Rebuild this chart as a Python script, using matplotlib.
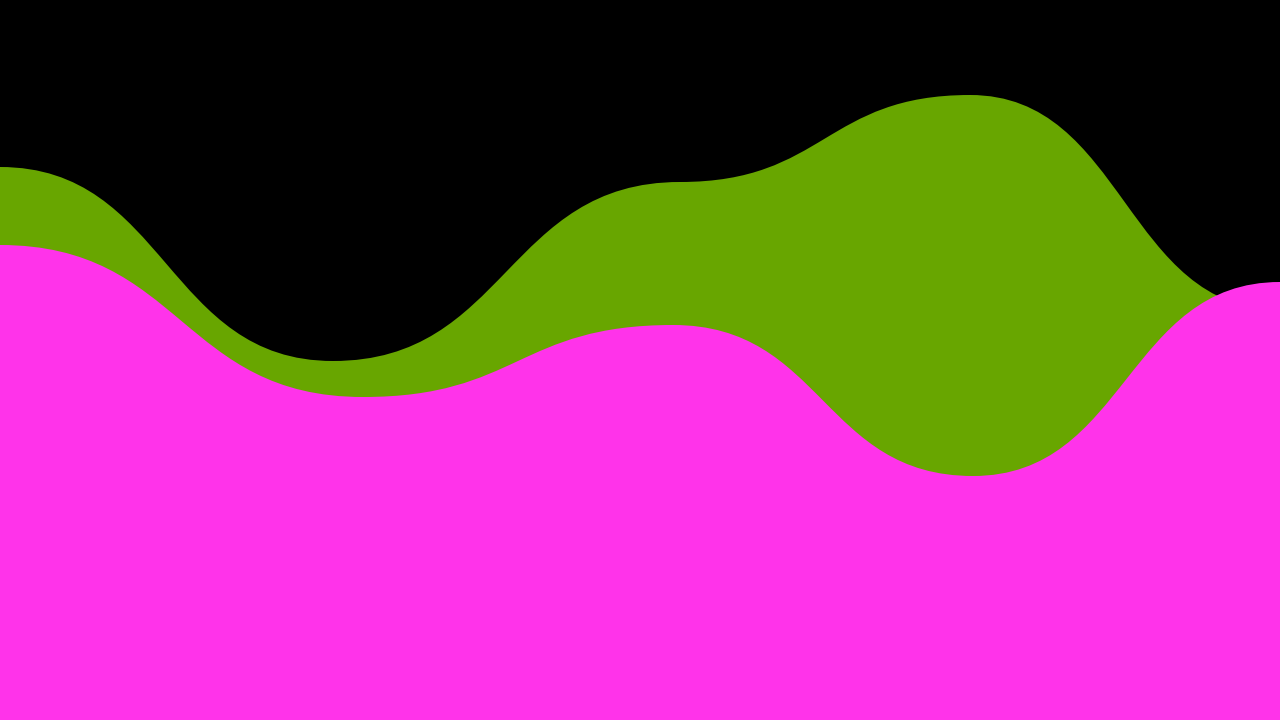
import matplotlib
matplotlib.use('Agg')
import matplotlib.pyplot as plt
from matplotlib.path import Path
from matplotlib.patches import PathPatch

# wave knots: x position and height (from bottom)
green_x = [0, 333, 680, 970, 1280]
green_v = [553, 359, 538, 625, 410]
pink_x = [0, 363, 673, 973, 1280]
pink_v = [475, 323, 395, 244, 438]

BG = '#000000'
GREEN = '#68a600'
PINK = '#ff33ea'


def wave_path(xs, vs, k=0.5):
    # smooth wave with flat tangents at every knot (cubic bezier segments)
    verts = [(xs[0], 0), (xs[0], vs[0])]
    codes = [Path.MOVETO, Path.LINETO]
    for i in range(len(xs) - 1):
        d = xs[i + 1] - xs[i]
        verts += [(xs[i] + k * d, vs[i]), (xs[i + 1] - k * d, vs[i + 1]),
                  (xs[i + 1], vs[i + 1])]
        codes += [Path.CURVE4] * 3
    verts += [(xs[-1], 0), (xs[0], 0)]
    codes += [Path.LINETO, Path.CLOSEPOLY]
    return Path(verts, codes)


fig = plt.figure(figsize=(12.8, 7.2), dpi=100, facecolor=BG)
ax = fig.add_axes([0, 0, 1, 1])
ax.set_facecolor(BG)
ax.add_patch(PathPatch(wave_path(green_x, green_v), facecolor=GREEN, edgecolor='none'))
ax.add_patch(PathPatch(wave_path(pink_x, pink_v), facecolor=PINK, edgecolor='none'))
ax.set_xlim(0, 1280)
ax.set_ylim(0, 720)
ax.axis('off')

fig.savefig('out.png', dpi=100, facecolor=BG)
